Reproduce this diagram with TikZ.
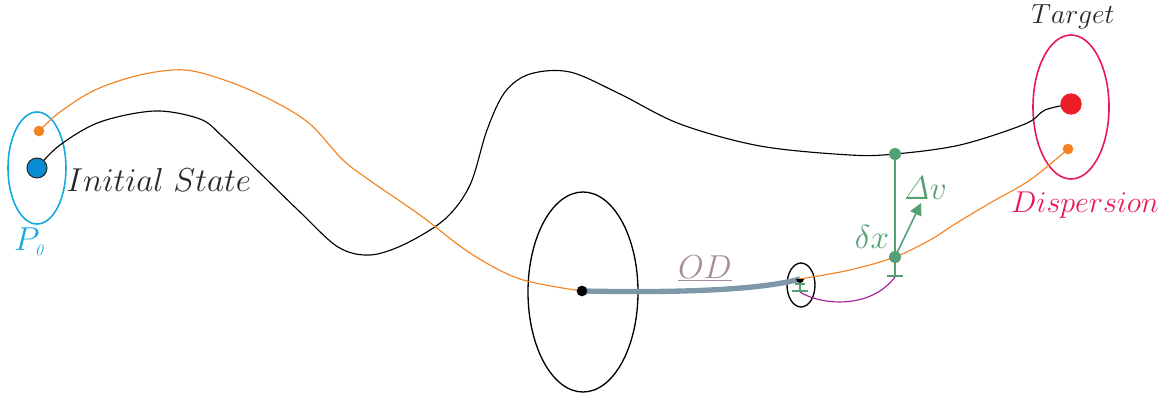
\documentclass[tikz,border=0pt]{standalone}
\usetikzlibrary{arrows.meta}
\definecolor{pcyan}{RGB}{20,170,225}
\definecolor{pblue}{RGB}{5,140,210}
\definecolor{porange}{RGB}{245,130,30}
\definecolor{pcrimson}{RGB}{232,25,85}
\definecolor{pred}{RGB}{238,30,40}
\definecolor{pgreen}{RGB}{85,160,115}
\definecolor{pgray}{RGB}{125,152,168}
\definecolor{pmauve}{RGB}{165,140,155}
\definecolor{ppurple}{RGB}{160,30,150}
\definecolor{ptext}{RGB}{40,40,40}
\tikzset{
  dot/.style={circle,inner sep=0pt,minimum size=#1},
  lbl/.style={inner sep=0pt,font=\fontsize{24}{28}\selectfont},
  traj/.style={line width=0.85pt},
}
\begin{document}
\begin{tikzpicture}[x=0.75pt,y=-0.75pt]
\useasboundingbox (0,0) rectangle (1168,400);
% ellipses
\draw[pcyan,line width=1.2pt] (37,168) ellipse [x radius=29,y radius=56];
\draw[black,line width=1pt] (583,292) ellipse [x radius=55,y radius=100];
\draw[black,line width=1pt] (801,285) ellipse [x radius=14,y radius=22];
\draw[pcrimson,line width=1.2pt] (1071,107) ellipse [x radius=38,y radius=72];
% named points
\coordinate (s0) at (37,168);
\coordinate (o0) at (39,131);
\coordinate (tg) at (1071,104);
\coordinate (o1) at (1068,149);
\coordinate (m0) at (582,291);
\coordinate (m1) at (800,279);
\coordinate (g0) at (895,154);
\coordinate (g1) at (895,257);
\coordinate (g2) at (895,277);
\coordinate (v1) at (921,203);
\coordinate (b0) at (800,283);
\coordinate (b1) at (800,292);
% black trajectory
\draw[black,traj] plot[smooth,tension=0.55] coordinates {(s0) (60,145) (100,122) (155,111) (200,119) (222,136) (260,173) (300,212) (338,247) (370,255) (405,244) (445,219) (470,185) (487,130) (505,92) (530,74) (570,72) (620,94) (680,124) (760,146) (850,155) (g0) (960,145) (1025,124) (1045,110) (tg)};
% orange trajectory
\draw[porange,traj] plot[smooth,tension=0.55] coordinates {(o0) (60,112) (95,90) (140,75) (185,70) (230,82) (275,102) (310,124) (343,160) (372,182) (420,215) (470,253) (520,279) (m0)};
\draw[porange,traj] plot[smooth,tension=0.55] coordinates {(m1) (850,270) (g1) (930,240) (955,224) (990,203) (1030,180) (o1)};
% OD thick line
\draw[pgray,line width=4pt] (m0) .. controls (680,293) and (760,290) .. (m1);
% purple
\draw[ppurple,traj] (b1) .. controls (820,305) and (870,310) .. (g2);
% green
\draw[pgreen,line width=1.2pt,{Bar[width=8pt]}-{Bar[width=12pt]}] (b0) -- (b1);
\draw[pgreen,line width=1.2pt,-{Bar[width=12pt]}] (g0) -- (g2);
\draw[pgreen,line width=1.2pt,-{Triangle[length=9pt,width=9pt]}] (g1) -- (v1);
% dots
\node[dot=9pt,fill=pgreen] (G0) at (g0) {};
\node[dot=9pt,fill=pgreen] (G1) at (g1) {};
\node[dot=8pt,fill=black] (M0) at (m0) {};
\fill[black] (m1) ++(-4,0) arc[start angle=180,end angle=0,radius=4] -- cycle;
\node[dot=15pt,fill=pblue,draw=ptext,line width=0.8pt] (S0) at (s0) {};
\node[dot=8pt,fill=porange] (O0) at (o0) {};
\node[dot=16pt,fill=pred] (TG) at (tg) {};
\node[dot=8pt,fill=porange] (O1) at (o1) {};
% labels
\node[lbl,text=ptext,anchor=west] (init) at (66,180) {$Initial\ State$};
\node[lbl,text=pcyan] (p0) at (30,242) {$P_{\scriptscriptstyle \mathit{0}}$};
\node[lbl,text=ptext,font=\fontsize{20}{24}\selectfont] (target) at (1073,17) {$Target$};
\node[lbl,text=pcrimson,font=\fontsize{20}{24}\selectfont] (disp) at (1085,205) {\scalebox{1.09}{$Dispersion$}};
\node[lbl,text=pmauve] (od) at (705,268) {$\underline{OD}$};
\node[lbl,text=pgreen] (dx) at (872,237) {$\delta x$};
\node[lbl,text=pgreen] (dv) at (925,188) {$\mathit{\Delta} v$};
\end{tikzpicture}
\end{document}
